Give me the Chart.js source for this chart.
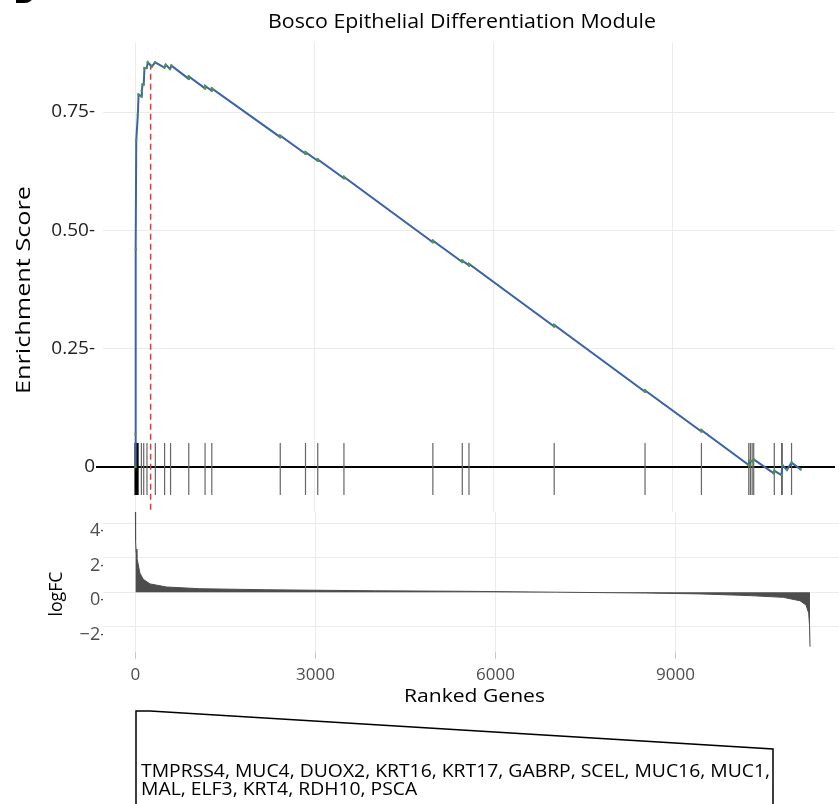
<!DOCTYPE html>
<html>
<head>
<meta charset="utf-8">
<script src="https://cdn.jsdelivr.net/npm/chart.js@4.4.1/dist/chart.umd.min.js"></script>
<style>
  html, body { margin: 0; padding: 0; background: #fff; }
  #wrap { position: relative; width: 839px; height: 804px; overflow: hidden; }
  .box { position: absolute; left: 0; width: 839px; }
</style>
</head>
<body>
<div id="wrap">
  <div class="box" style="top:0;height:520px"><canvas id="chart-es"></canvas></div>
  <div class="box" style="top:500px;height:304px"><canvas id="chart-fc"></canvas></div>
</div>
<script>
// running enrichment score (rank, score)
const esRanks  = [0, 4, 11, 17, 44, 56, 103, 111, 122, 142, 155, 194, 211, 278, 333, 489, 511, 583, 606,
  897, 898, 1170, 1171, 1283, 1284, 2430, 2431, 2853, 2854, 3058, 3059, 3497, 3498, 4987, 4988,
  5480, 5481, 5592, 5593, 7020, 7021, 8542, 8543, 9487, 9488, 10280, 10295, 10337, 10363,
  10695, 10708, 10830, 10842, 10920, 10997, 11150];
const esScores = [0, 0.07, 0.46, 0.69, 0.745, 0.787, 0.783, 0.795, 0.808, 0.808, 0.843, 0.843, 0.855, 0.846, 0.855, 0.844, 0.85, 0.841, 0.848,
  0.82, 0.825, 0.8, 0.805, 0.795, 0.8, 0.697, 0.7, 0.662, 0.665, 0.647, 0.65, 0.61, 0.613, 0.475, 0.478,
  0.433, 0.436, 0.426, 0.429, 0.297, 0.3, 0.159, 0.162, 0.075, 0.078, 0.004, 0.013, 0.012, 0.016,
  -0.013, -0.008, -0.017, 0.004, -0.006, 0.009, -0.005];

// gene set members along the ranked list
const leadHits  = [0, 4, 11, 17, 30, 44];
const otherHits = [103, 142, 197, 337, 492, 592, 897, 1170, 1283, 2430, 2853, 3058, 3497, 4987, 5480, 5592,
  7020, 8542, 9487, 10280, 10308, 10337, 10363, 10708, 10830, 10842, 10997];
const peakRank = 258;

// ranked logFC profile
const fcRanks  = [0, 3, 10, 25, 75, 130, 242, 520, 1075, 2187, 2742, 4000, 5500, 7000, 8500, 9408, 10242, 10797, 11075, 11175, 11220, 11235, 11242];
const fcValues = [4.65, 3.0, 2.5, 2.0, 1.1, 0.75, 0.48, 0.3, 0.2, 0.14, 0.12, 0.08, 0.05, 0.0, -0.05, -0.1, -0.2, -0.3, -0.5, -0.74, -1.22, -2.0, -3.16];

const rankTicks = [0, 3000, 6000, 9000];
const esTicks = [0, 0.25, 0.5, 0.75];
const fcTicks = [-2, 0, 2, 4];
const leadingEdge = ['TMPRSS4, MUC4, DUOX2, KRT16, KRT17, GABRP, SCEL, MUC16, MUC1,', 'MAL, ELF3, KRT4, RDH10, PSCA'];

Chart.defaults.font.family = "'Open Sans', sans-serif";
const FONT = "'Open Sans', sans-serif";

function hitSegments(list) {
  const pts = [];
  list.forEach(g => { pts.push({x: g, y: -0.059}, {x: g, y: 0.051}, {x: g, y: null}); });
  return pts;
}

function fixY(width) {
  return s => { s.width = width; s.paddingTop = 0; s.paddingBottom = 0; };
}

// draws text stretched along its direction to a given width (the original font is narrower)
function stretchText(c, text, x, y, width, size, angle, align) {
  c.save();
  c.font = size + 'px ' + FONT;
  const k = width / c.measureText(text).width;
  c.translate(x, y);
  if (angle) c.rotate(angle);
  c.scale(k, 1);
  c.textAlign = align || 'center';
  c.textBaseline = 'middle';
  c.fillText(text, 0, 0);
  c.restore();
  return k;
}

const gridGrey = '#ebebeb';

// top panel: running ES
const topText = {
  id: 'topText',
  afterDraw(chart) {
    const c = chart.ctx;
    c.save();
    c.fillStyle = '#000';
    stretchText(c, 'Bosco Epithelial Differentiation Module', 462, 22, 388, 19.5);
    stretchText(c, 'Enrichment Score', 24, 290, 208, 20, -Math.PI / 2);
    c.font = 'bold 30px Arial';
    c.textAlign = 'left';
    c.textBaseline = 'alphabetic';
    c.fillText('D', 14, 3);
    c.restore();
  }
};

new Chart(document.getElementById('chart-es'), {
  type: 'line',
  data: {
    datasets: [
      {
        data: esRanks.map((g, i) => ({x: g, y: esScores[i]})),
        borderColor: '#3b62ad', borderWidth: 2, tension: 0,
        pointRadius: 1.3, pointBackgroundColor: '#4f9a3c', pointBorderWidth: 0,
        order: 0
      },
      {
        data: [{x: peakRank, y: 0.852}, {x: peakRank, y: -0.09}],
        borderColor: '#e0393e', borderWidth: 1.5, borderDash: [6, 4],
        pointRadius: 0, order: 1
      },
      {
        data: hitSegments(leadHits),
        borderColor: '#000', borderWidth: 1.6, pointRadius: 0, spanGaps: false, order: 2
      },
      {
        data: hitSegments(otherHits),
        borderColor: '#666', borderWidth: 1.2, pointRadius: 0, spanGaps: false, order: 3
      }
    ]
  },
  options: {
    responsive: true, maintainAspectRatio: false, animation: false, events: [],
    layout: { padding: { top: 42, bottom: 8, left: 0, right: 0 } },
    plugins: { legend: { display: false }, tooltip: { enabled: false } },
    scales: {
      x: {
        type: 'linear', min: -540, max: 11725,
        afterBuildTicks: s => { s.ticks = rankTicks.map(v => ({value: v})); },
        afterFit: s => { s.height = 0; s.paddingLeft = 0; s.paddingRight = 0; },
        ticks: { display: false },
        grid: { color: gridGrey, lineWidth: 1, drawTicks: false },
        border: { display: false }
      },
      y: {
        min: -0.095, max: 0.898,
        afterBuildTicks: s => { s.ticks = esTicks.map(v => ({value: v})); },
        afterFit: fixY(103),
        ticks: {
          color: '#222', font: { size: 19 }, padding: 1,
          callback: v => v === 0 ? '0' : v.toFixed(2) + '-'
        },
        grid: {
          color: c => c.tick && c.tick.value === 0 ? '#000' : gridGrey,
          lineWidth: c => c.tick && c.tick.value === 0 ? 2 : 1,
          tickLength: 7,
          tickColor: c => c.tick && c.tick.value === 0 ? '#000' : 'rgba(0,0,0,0)'
        },
        border: { display: false }
      }
    }
  },
  plugins: [topText]
});

// bottom panel: ranked logFC
const bottomText = {
  id: 'bottomText',
  afterDraw(chart) {
    const c = chart.ctx;
    c.save();
    c.fillStyle = '#000';
    stretchText(c, 'Ranked Genes', 474.5, 197, 141, 19);
    stretchText(c, 'logFC', 57, 94, 45, 19, -Math.PI / 2);

    // leading-edge box
    c.strokeStyle = '#000';
    c.lineWidth = 1.5;
    c.beginPath();
    c.moveTo(136, 310);
    c.lineTo(136, 211);
    c.lineTo(150, 211);
    c.lineTo(773, 249);
    c.lineTo(773, 310);
    c.stroke();

    c.font = '17.5px ' + FONT;
    const k = 629 / c.measureText(leadingEdge[0]).width;
    const w2 = c.measureText(leadingEdge[1]).width * k;
    stretchText(c, leadingEdge[0], 141, 272, 629, 17.5, 0, 'left');
    stretchText(c, leadingEdge[1], 141, 290, w2, 17.5, 0, 'left');
    c.restore();
  }
};

new Chart(document.getElementById('chart-fc'), {
  type: 'line',
  data: {
    datasets: [{
      data: fcRanks.map((g, i) => ({x: g, y: fcValues[i]})),
      borderColor: '#4d4d4d', borderWidth: 1, backgroundColor: '#4d4d4d',
      fill: 'origin', pointRadius: 0, tension: 0
    }]
  },
  options: {
    responsive: true, maintainAspectRatio: false, animation: false, events: [],
    layout: { padding: { top: 12, bottom: 94, left: 0, right: 0 } },
    plugins: { legend: { display: false }, tooltip: { enabled: false } },
    scales: {
      x: {
        type: 'linear', min: -540, max: 11725,
        afterBuildTicks: s => { s.ticks = rankTicks.map(v => ({value: v})); },
        afterFit: s => { s.height = 58; s.paddingLeft = 0; s.paddingRight = 0; },
        ticks: { color: '#4d4d4d', font: { size: 17 }, padding: 6, maxRotation: 0, callback: v => String(v) },
        grid: { color: gridGrey, lineWidth: 1, tickLength: 7, tickColor: '#c8c8c8' },
        border: { display: false }
      },
      y: {
        min: -3.47, max: 4.65,
        afterBuildTicks: s => { s.ticks = fcTicks.map(v => ({value: v})); },
        afterFit: fixY(103),
        ticks: {
          color: '#4d4d4d', font: { size: 18 }, padding: -3, labelOffset: 8,
          callback: v => (v < 0 ? '\u2212' + Math.abs(v) : String(v)) + '-'
        },
        grid: { color: gridGrey, lineWidth: 1, drawTicks: false },
        border: { display: false }
      }
    }
  },
  plugins: [bottomText]
});
</script>
</body>
</html>
